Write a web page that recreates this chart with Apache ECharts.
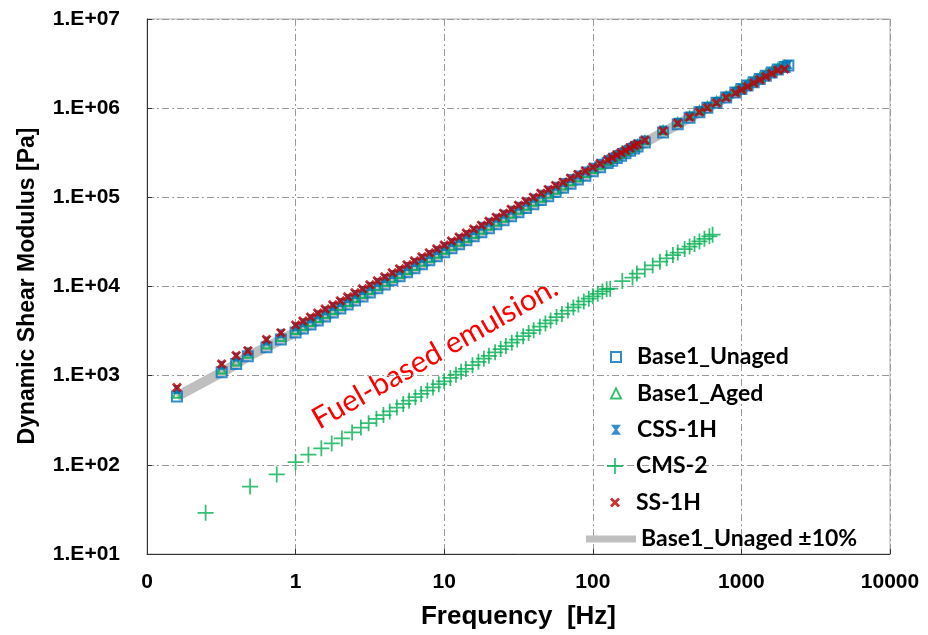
<!DOCTYPE html>
<html>
<head>
<meta charset="utf-8">
<script src="https://cdn.jsdelivr.net/npm/echarts@6/dist/echarts.min.js"></script>
<style>
  html, body { margin: 0; padding: 0; background: #fff; }
  #chart { width: 928px; height: 635px; }
</style>
</head>
<body>
<div id="chart"></div>
<script>
// frequencies shared by the Base1 / CSS / SS sweeps [Hz]
const freqBase = [0.159, 0.318, 0.398, 0.477, 0.637, 0.796, 1.0, 1.12, 1.26, 1.41, 1.58, 1.78, 2.0, 2.24, 2.51, 2.82,
  3.16, 3.55, 3.98, 4.47, 5.01, 5.62, 6.31, 7.08, 7.94, 8.91, 10.0, 11.2, 12.6, 14.1, 15.8, 17.8, 20.0, 22.4, 25.1,
  28.2, 31.6, 35.5, 39.8, 44.7, 50.1, 56.2, 63.1, 70.8, 79.4, 89.1, 100, 112, 126, 135, 145, 155, 166, 178, 190,
  200, 224, 297, 373, 448, 522, 590, 680, 790, 910, 1000, 1100, 1210, 1330, 1460, 1600, 1760, 1950, 2070];

const base1Unaged = [585, 1090, 1350, 1650, 2080, 2540, 3050, 3370, 3750, 4150, 4600, 5110, 5680, 6290, 6980, 7740,
  8580, 9530, 10560, 11720, 12990, 14410, 15990, 17740, 19660, 21810, 24200, 26800, 29800, 33000, 36500, 40600,
  45100, 50000, 55400, 61500, 68200, 75700, 83900, 93100, 103000, 115000, 128000, 142000, 158000, 175000, 196000,
  217000, 242000, 258000, 276000, 293000, 312000, 333000, 354000, 371000, 412000, 534000, 658000, 781000, 901000,
  1010000, 1150000, 1320000, 1500000, 1640000, 1790000, 1950000, 2130000, 2310000, 2510000, 2710000, 2900000, 3000000];

const base1Aged = [625, 1170, 1440, 1760, 2230, 2720, 3250, 3600, 4000, 4420, 4900, 5450, 6050, 6700, 7430, 8250,
  9140, 10150, 11250, 12480, 13840, 15350, 17030, 18900, 20940, 23240, 25800, 28500, 31700, 35100, 38900, 43300,
  48100, 53200, 59000, 65500, 72600, 80700, 89400, 99200, 110000, 122000, 136000, 151000, 168000, 187000, 208000,
  231000, 257000, 274000, 293000, 311000, 331000, 353000, 375000, 393000, 437000, 566000, 696000, 823000, 947000,
  1060000, 1205000, 1380000, 1570000, 1710000, 1865000, 2035000, 2220000, 2415000, 2620000, 2850000, 3050000, null];

const css1H = [700, 1310, 1620, 1850, 2450, 2950, 3540, 3920, 4360, 4820, 5350, 5950, 6610, 7320, 8120, 9010,
  9980, 11090, 12280, 13630, 15110, 16760, 18600, 20630, 22870, 25370, 28140, 31160, 34650, 38330, 42480, 47260,
  52500, 58130, 64450, 71530, 79290, 88060, 97580, 108300, 120000, 133200, 146300, 162300, 178300, 197800, 217300,
  240600, 264700, 281700, 300500, 319000, 339300, 361300, 381400, 399400, 440100, 567400, 693000, 817000, 938000,
  1042000, 1185000, 1356000, 1539000, 1670000, 1815000, 1975000, 2150000, 2335000, 2530000, 2750000, 2980000, 3080000];

const ss1H = [738, 1350, 1680, 1900, 2540, 3020, 3710, 4100, 4560, 5050, 5600, 6230, 6920, 7660, 8500, 9430,
  10450, 11600, 12860, 14270, 15810, 17540, 19470, 21590, 23930, 26560, 29200, 32320, 35940, 39760, 44070, 48590,
  53980, 59760, 66250, 73540, 81510, 90530, 100300, 111300, 122300, 135700, 148000, 163800, 180000, 197800, 217300,
  238200, 262100, 279000, 297500, 315900, 336000, 357800, 379500, 397500, 436000, 556000, 676000, 793000, 906000,
  1009000, 1144000, 1306000, 1478000, 1610000, 1750000, 1910000, 2080000, 2260000, 2450000, 2660000, 2750000, null];

// CMS-2 sweep
const freqCms = [0.248, 0.494, 0.747, 1.0, 1.22, 1.49, 1.75, 2.05, 2.4, 2.75, 3.1, 3.5, 3.9, 4.3, 4.8, 5.3, 5.8,
  6.4, 7.0, 7.7, 8.4, 9.2, 10, 11, 12, 13, 14, 15.5, 17, 18.5, 20, 22, 24, 26, 28.5, 31, 34, 37, 40, 44, 48, 52,
  57, 62, 68, 74, 80, 87, 94, 100, 108, 116, 124, 131, 158, 185, 198, 224, 253, 283, 314, 346, 373, 415, 448, 484,
  522, 564, 609, 640];

const cms2 = [29, 57, 78, 107, 130, 153, 174, 198, 231, 262, 293, 328, 362, 397, 439, 482, 524, 574, 624, 681, 738,
  803, 863, 944, 1026, 1109, 1189, 1310, 1430, 1552, 1671, 1830, 1990, 2148, 2344, 2537, 2773, 3007, 3238, 3545,
  3855, 4160, 4543, 4920, 5380, 5825, 6270, 6800, 7310, 7760, 8280, 8810, 9330, 9450, 11500, 12600, 13960, 15520,
  17230, 18970, 20720, 22500, 24030, 26300, 28080, 30040, 32060, 34220, 36580, 38100];

const seriesNames = ['Base1_Unaged', 'Base1_Aged', 'CSS-1H', 'CMS-2', 'SS-1H', 'Base1_Unaged \u00b110%'];

function pairs(xs, ys) {
  return xs.map((x, i) => [x, ys[i]]).filter(p => p[1] != null);
}

const crossPath = 'path://M0,2L2,0L5,3L8,0L10,2L7,5L10,8L8,10L5,7L2,10L0,8L3,5Z';
const plusPath = 'path://M0,4.45H10V5.55H0Z M4.45,0H5.55V10H4.45Z';
const hourglassPath = 'path://M0,0L10,0L6.2,5L10,10L0,10L3.8,5Z';

const chart = echarts.init(document.getElementById('chart'));
const axisFont = { fontFamily: 'Liberation Sans, Arial', fontWeight: 'bold', color: '#000' };
const gridLine = { show: true, lineStyle: { color: '#9a9a9a', width: 1, type: [7, 3, 2, 3] } };
const legendText = { fontFamily: 'Lato', fontWeight: 'bold', fontSize: 23, lineHeight: 24, color: '#000' };

chart.setOption({
  animation: false,
  grid: { left: 147, right: 38, top: 19, bottom: 80, show: true, borderColor: '#b0b0b0', borderWidth: 1 },
  xAxis: {
    type: 'log', logBase: 10, min: 0.1, max: 10000,
    name: 'Frequency  [Hz]', nameLocation: 'middle', nameGap: 50,
    nameTextStyle: Object.assign({ fontSize: 26 }, axisFont),
    axisLine: { lineStyle: { color: '#333', width: 1 } },
    axisTick: { inside: true, length: 5, lineStyle: { color: '#333' } },
    axisLabel: Object.assign({ fontSize: 21, margin: 18,
      formatter: v => (v < 1 ? '0' : String(Math.round(v))) }, axisFont),
    splitLine: gridLine
  },
  yAxis: {
    type: 'log', logBase: 10, min: 10, max: 1e7,
    axisLine: { show: true, lineStyle: { color: '#333', width: 1 } },
    axisTick: { show: true, inside: true, length: 5, lineStyle: { color: '#333' } },
    axisLabel: Object.assign({ fontSize: 21, margin: 27,
      formatter: v => '1.E+' + String(Math.round(Math.log10(v))).padStart(2, '0') }, axisFont),
    splitLine: gridLine
  },
  legend: [
    {
      orient: 'vertical', left: 605, top: 340, itemWidth: 10, itemHeight: 10, itemGap: 12.4,
      data: seriesNames.slice(0, 3),
      textStyle: Object.assign({ padding: [0, 0, 0, 11] }, legendText)
    },
    {
      orient: 'vertical', left: 602, top: 449, itemWidth: 16, itemHeight: 16,
      data: [seriesNames[3]],
      textStyle: Object.assign({ padding: [0, 0, 0, 8] }, legendText)
    },
    {
      orient: 'vertical', left: 605, top: 485.6, itemWidth: 10, itemHeight: 10,
      data: [seriesNames[4]],
      textStyle: Object.assign({ padding: [0, 0, 0, 11] }, legendText)
    },
    {
      orient: 'vertical', left: 581, top: 522, itemWidth: 50, itemHeight: 7,
      data: [{ name: seriesNames[5], icon: 'rect' }],
      textStyle: legendText
    }
  ],
  graphic: [
    {
      type: 'text', x: 28, y: 286, rotation: Math.PI / 2,
      style: { text: 'Dynamic Shear Modulus [Pa]', fill: '#000', font: 'bold 23px "Liberation Sans", Arial',
        align: 'center', verticalAlign: 'middle' }
    },
    {
      type: 'text', left: 307, top: 272, rotation: 29.5 * Math.PI / 180,
      style: { text: 'Fuel-based emulsion.', fill: '#ff0000', font: '30px Lato' }
    }
  ],
  series: [
    {
      name: seriesNames[5], type: 'line', data: pairs(freqBase, base1Unaged), z: 1,
      showSymbol: false, symbol: 'none', lineStyle: { color: '#bfbfbf', width: 10 }, itemStyle: { color: '#bfbfbf' }
    },
    {
      name: seriesNames[0], type: 'scatter', data: pairs(freqBase, base1Unaged), z: 2, symbol: 'rect', symbolSize: 10,
      itemStyle: { color: 'rgba(0,0,0,0)', borderColor: '#0070c0', borderWidth: 2 }
    },
    {
      name: seriesNames[1], type: 'scatter', data: pairs(freqBase, base1Aged), z: 3, symbol: 'triangle', symbolSize: 8,
      itemStyle: { color: 'rgba(0,0,0,0)', borderColor: '#00b050', borderWidth: 2 }
    },
    {
      name: seriesNames[2], type: 'scatter', data: pairs(freqBase, css1H), z: 4, symbol: hourglassPath, symbolSize: 9,
      itemStyle: { color: '#0070c0' }
    },
    {
      name: seriesNames[3], type: 'scatter', data: pairs(freqCms, cms2), z: 5, symbol: plusPath, symbolSize: 16,
      itemStyle: { color: '#00b050' }
    },
    {
      name: seriesNames[4], type: 'scatter', data: pairs(freqBase, ss1H), z: 6, symbol: crossPath, symbolSize: 10,
      itemStyle: { color: '#c00000' }
    }
  ]
});
</script>
</body>
</html>
